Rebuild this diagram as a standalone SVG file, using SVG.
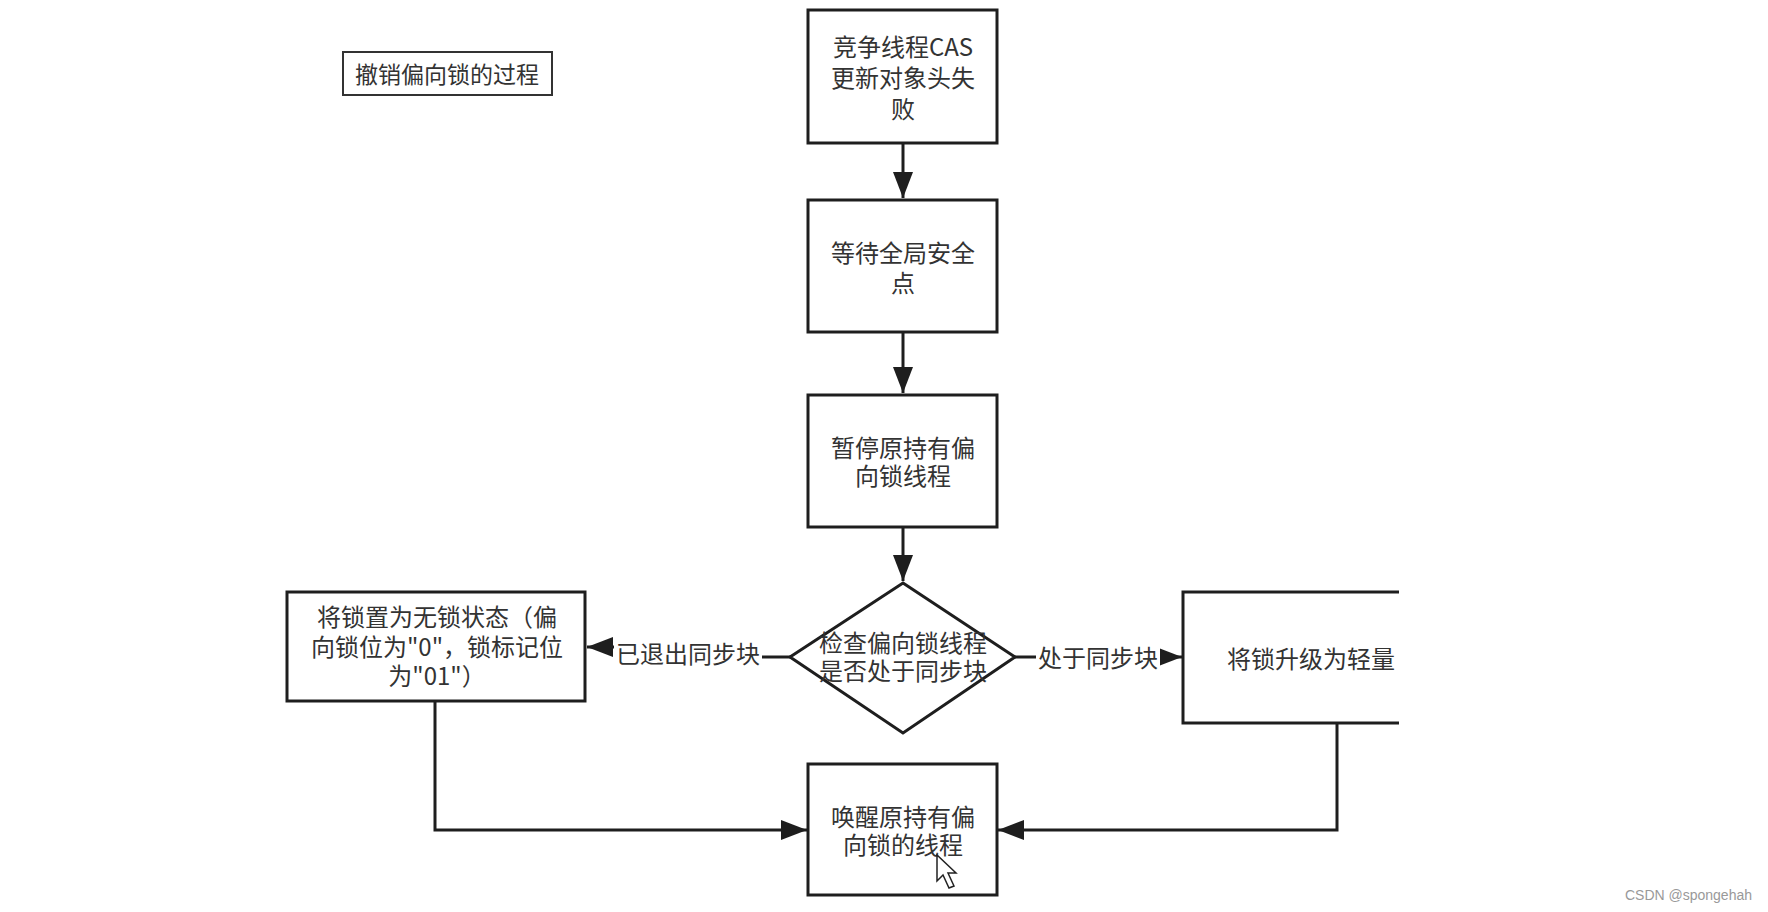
<svg xmlns="http://www.w3.org/2000/svg" width="1768" height="912" viewBox="0 0 1768 912">
<style>
.box{fill:#fff;stroke:#1e1e1e;stroke-width:3}
.ln{fill:none;stroke:#1e1e1e;stroke-width:3}
.t{font-family:"Noto Sans CJK SC","Microsoft YaHei",sans-serif;font-size:24px;fill:#333;text-anchor:middle;dominant-baseline:central}
.lbl{font-family:"Noto Sans CJK SC",sans-serif;font-size:24px;fill:#333;text-anchor:middle;dominant-baseline:central}
</style>
<defs>
<marker id="ah" markerUnits="userSpaceOnUse" markerWidth="28" markerHeight="22" refX="26" refY="10" orient="auto">
<path d="M0,0 L26,10 L0,20 z" fill="#1e1e1e"/>
</marker>
<clipPath id="cut"><rect x="0" y="0" width="1399" height="912"/></clipPath>
</defs>
<rect width="1768" height="912" fill="#fff"/>
<g id="title">
<rect x="343" y="52" width="209" height="43" fill="#fff" stroke="#333" stroke-width="2"/>
<text class="t" x="447" y="73" style="font-size:23px">撤销偏向锁的过程</text>
</g>
<g id="connectors">
<line class="ln" x1="903" y1="143" x2="903" y2="198" marker-end="url(#ah)"/>
<line class="ln" x1="903" y1="332" x2="903" y2="393" marker-end="url(#ah)"/>
<line class="ln" x1="903" y1="527" x2="903" y2="581" marker-end="url(#ah)"/>
<polyline class="ln" points="790,657 700,657 700,647 587,647" marker-end="url(#ah)"/>
<line class="ln" x1="1015" y1="657" x2="1182" y2="657" marker-end="url(#ah)"/>
<polyline class="ln" points="435,701 435,830 807,830" marker-end="url(#ah)"/>
<polyline class="ln" points="1337,723 1337,830 998,830" marker-end="url(#ah)"/>
<rect x="614" y="636" width="148" height="32" fill="#fff"/>
<text class="lbl" x="688" y="652">已退出同步块</text>
<rect x="1036" y="642" width="124" height="32" fill="#fff"/>
<text class="lbl" x="1098" y="656">处于同步块</text>
</g>
<g id="n1">
<rect class="box" x="808" y="10" width="189" height="133"/>
<text class="t" x="903" y="45">竞争线程CAS</text>
<text class="t" x="903" y="76">更新对象头失</text>
<text class="t" x="903" y="107">败</text>
</g>
<g id="n2">
<rect class="box" x="808" y="200" width="189" height="132"/>
<text class="t" x="903" y="251">等待全局安全</text>
<text class="t" x="903" y="281">点</text>
</g>
<g id="n3">
<rect class="box" x="808" y="395" width="189" height="132"/>
<text class="t" x="903" y="446">暂停原持有偏</text>
<text class="t" x="903" y="474">向锁线程</text>
</g>
<g id="n4">
<polygon class="box" points="903,583 1015,657 903,733 790,657"/>
<text class="t" x="903" y="641">检查偏向锁线程</text>
<text class="t" x="903" y="669">是否处于同步块</text>
</g>
<g id="n5">
<rect class="box" x="287" y="592" width="298" height="109"/>
<text class="t" x="437" y="615">将锁置为无锁状态（偏</text>
<text class="t" x="437" y="645">向锁位为"0"，锁标记位</text>
<text class="t" x="437" y="674">为"01"）</text>
</g>
<g id="n6" clip-path="url(#cut)">
<rect class="box" x="1183" y="592" width="300" height="131"/>
<text class="t" x="1227" y="657" style="text-anchor:start">将锁升级为轻量</text>
</g>
<g id="n7">
<rect class="box" x="808" y="764" width="189" height="131"/>
<text class="t" x="903" y="815">唤醒原持有偏</text>
<text class="t" x="903" y="843">向锁的线程</text>
</g>
<g id="cursor">
<path d="M937,855 L937,881 L943,875 L949,888 L954,886 L948,873 L956,873 z" fill="#fff" stroke="#222" stroke-width="1.5"/>
</g>
<text x="1752" y="900" style="font-family:'Liberation Sans',Arial,sans-serif;font-size:14px;fill:#999;text-anchor:end">CSDN @spongehah</text>
</svg>
